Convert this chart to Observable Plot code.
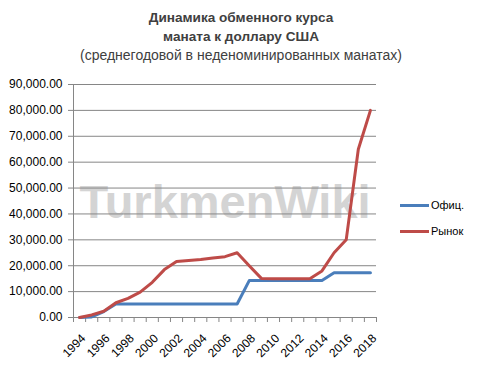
<!DOCTYPE html>
<html><head><meta charset="utf-8">
<script src="https://cdn.jsdelivr.net/npm/d3@7"></script>
<script src="https://cdn.jsdelivr.net/npm/@observablehq/plot@0.6"></script>
<style>
body{margin:0;background:#fff;font-family:"Liberation Sans",Arial,sans-serif;}
#wrap{position:relative;width:478px;height:379px;}
#title{position:absolute;left:0;top:8px;width:482px;text-align:center;color:#404040;line-height:18px;}
#title b{font-weight:bold;font-size:13.6px;}
#title span{font-size:14px;}
#legend{position:absolute;left:400px;top:192px;font-size:11px;color:#000;}
.li{display:flex;align-items:center;height:26px;}
.sw{width:29px;height:3px;margin-right:2px;}
</style></head>
<body><div id="wrap">
<div id="chart"></div>
<div id="title"><b>Динамика обменного курса</b><br><b>маната к доллару США</b><br><span>(среднегодовой в неденоминированных манатах)</span></div>
<div id="legend"></div>
</div>
<script>
const years = d3.range(1994, 2019);
const official = [0, 200, 2300, 5200, 5200, 5200, 5200, 5200, 5200, 5200, 5200, 5200, 5200, 5200, 14250, 14250, 14250, 14250, 14250, 14250, 14250, 17250, 17250, 17250, 17250];
const market = [0, 1000, 2400, 5700, 7400, 9800, 13600, 18500, 21600, 22000, 22400, 23000, 23500, 25000, 20000, 15100, 15000, 15000, 15000, 15000, 18000, 25000, 30000, 65000, 80000];
const seriesNames = ["Офиц.", "Рынок"];
const colors = ["#4a7ebb", "#be4b48"];
const yTicks = d3.range(0, 90001, 10000);
const labelYears = years.filter(y => y % 2 === 0);

const data = [];
years.forEach((y, i) => {
  data.push({year: y, value: official[i], series: seriesNames[0]});
  data.push({year: y, value: market[i], series: seriesNames[1]});
});

const chart = Plot.plot({
  width: 478, height: 379,
  marginLeft: 73, marginRight: 102, marginTop: 84, marginBottom: 62,
  style: {fontFamily: "Liberation Sans, Arial, sans-serif", fontSize: "12px", color: "#000", background: "transparent"},
  x: {domain: [1993.5, 2018.5]},
  y: {domain: [0, 90000]},
  color: {domain: seriesNames, range: colors},
  marks: [
    Plot.text(["TurkmenWiki"], {frameAnchor: "middle", dx: 0, dy: 2, fontSize: 47, fontWeight: "bold", fill: "#d4d4d4", fontFamily: "Liberation Sans, Arial, sans-serif"}),
    Plot.gridY(yTicks, {stroke: "#868686", strokeOpacity: 1}),
    Plot.axisY({ticks: yTicks, tickFormat: d3.format(",.2f"), tickSize: 5, tickPadding: 6, stroke: "#868686", label: null, fill: "#000"}),
    Plot.ruleX([1993.5], {stroke: "#868686"}),
    Plot.ruleY([0], {stroke: "#868686"}),
    Plot.axisX({ticks: d3.range(1993.5, 2019, 1), tickFormat: () => "", tickSize: 5, stroke: "#868686", label: null}),
    Plot.axisX({ticks: labelYears, tickFormat: d => String(d), tickSize: 0, tickRotate: -45, textAnchor: "end", dx: 4, dy: 7, label: null, fill: "#000"}),
    Plot.line(data, {x: "year", y: "value", z: "series", stroke: "series", strokeWidth: 3, strokeLinejoin: "round"})
  ]
});
document.getElementById("chart").appendChild(chart);

const legend = document.getElementById("legend");
seriesNames.forEach((n, i) => {
  const d = document.createElement("div");
  d.className = "li";
  d.innerHTML = `<span class="sw" style="background:${colors[i]}"></span><span>${n}</span>`;
  legend.appendChild(d);
});
</script>
</body></html>
